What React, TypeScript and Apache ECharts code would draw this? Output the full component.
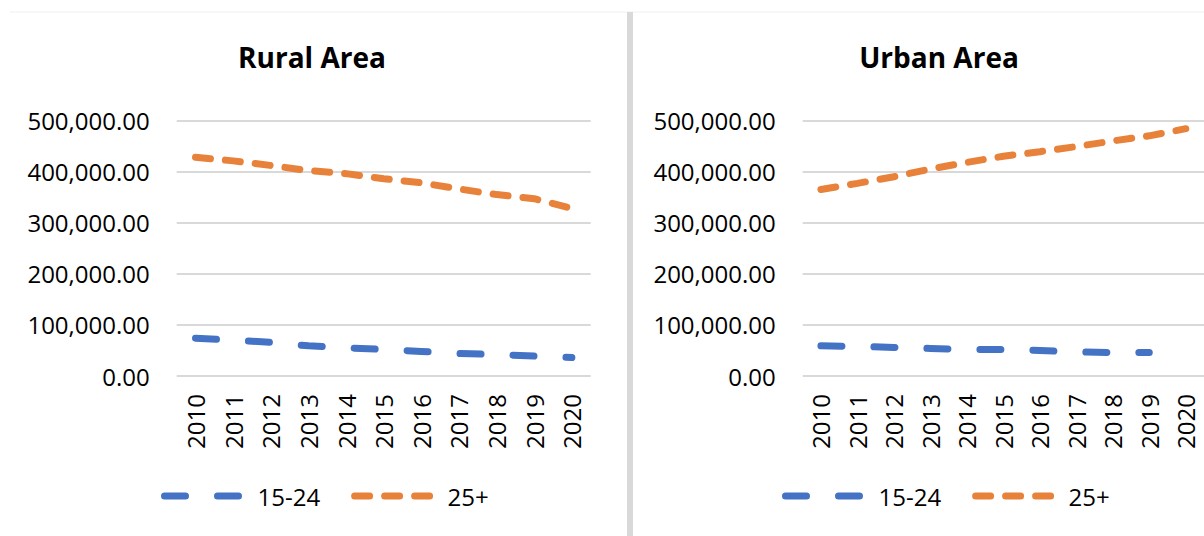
import React, { useEffect, useRef } from "react";
import * as echarts from "echarts";

const years = ["2010", "2011", "2012", "2013", "2014", "2015", "2016", "2017", "2018", "2019", "2020"];
const rural1524 = [74000, 70000, 66000, 59000, 55000, 52000, 48000, 44000, 42000, 39000, 36000];
const rural25 = [428000, 421000, 412000, 402000, 396000, 386000, 378000, 366000, 355000, 347000, 328000];
const urban1524 = [59000, 58000, 56000, 54000, 52000, 52000, 50000, 47000, 46000, 46000, null];
const urban25 = [365000, 377000, 390000, 405000, 418000, 430000, 439000, 449000, 460000, 470000, 484000];
const titles = ["Rural Area", "Urban Area"];
const seriesNames = ["15-24", "25+"];

const BLUE = "#4472C4";
const ORANGE = "#E8823A";
const FONT = "Open Sans";

export default function App() {
  const ref = useRef<HTMLDivElement>(null);
  useEffect(() => {
    if (!ref.current) return;
    const chart = echarts.init(ref.current, null, { renderer: "svg" });
    const fmt = (v: number) =>
      v.toLocaleString("en-US", { minimumFractionDigits: 2, maximumFractionDigits: 2 });
    const grids = [
      { left: 176.7, top: 120.5, width: 414, height: 255.5 },
      { left: 802.7, top: 120.5, width: 411, height: 255.5 },
    ];
    const xAxes = grids.map((_, i) => ({
      type: "category",
      gridIndex: i,
      data: years,
      boundaryGap: true,
      axisLine: { show: false },
      axisTick: { show: false },
      axisLabel: { rotate: 90, margin: 18, fontSize: 24, fontFamily: FONT, color: "#000" },
    }));
    const yAxes = grids.map((_, i) => ({
      type: "value",
      gridIndex: i,
      min: 0,
      max: 500000,
      interval: 100000,
      axisLine: { show: false },
      axisTick: { show: false },
      splitLine: { lineStyle: { color: "#d9d9d9", width: 2 } },
      axisLabel: { margin: 27, fontSize: 24, fontFamily: FONT, color: "#000", formatter: fmt },
    }));
    const blueLine = { color: BLUE, width: 7, type: [21, 32], cap: "round" };
    const orangeLine = { color: ORANGE, width: 7, type: [15, 15], cap: "round" };
    const mk = (name: string, data: (number | null)[], idx: number, ls: any, color: string) => ({
      type: "line",
      name,
      data,
      xAxisIndex: idx,
      yAxisIndex: idx,
      symbol: "none",
      showSymbol: false,
      color,
      lineStyle: ls,
      connectNulls: false,
    });
    const legendCommon = {
      orient: "horizontal",
      padding: 0,
      top: 484,
      itemWidth: 76,
      itemHeight: 8,
      itemGap: 31,
      data: seriesNames,
      lineStyle: { width: 7 },
      itemStyle: { opacity: 0, color: "transparent", borderWidth: 0 },
      textStyle: { fontSize: 24, fontFamily: FONT, color: "#000", padding: [0, 0, 0, 12] },
    };
    chart.setOption({
      animation: false,
      backgroundColor: "#ffffff",
      title: titles.map((t, i) => ({
        text: t,
        left: i === 0 ? 312 : 939,
        top: 43,
        padding: 0,
        textAlign: "center",
        textStyle: { fontSize: 28, fontWeight: "bold", fontFamily: FONT, color: "#000" },
      })),
      legend: [
        { ...legendCommon, left: 161 },
        { ...legendCommon, left: 782 },
      ],
      grid: grids,
      xAxis: xAxes,
      yAxis: yAxes,
      series: [
        mk(seriesNames[0], rural1524, 0, blueLine, BLUE),
        mk(seriesNames[1], rural25, 0, orangeLine, ORANGE),
        mk(seriesNames[0], urban1524, 1, blueLine, BLUE),
        mk(seriesNames[1], urban25, 1, orangeLine, ORANGE),
      ],
      graphic: [
        {
          type: "line",
          shape: { x1: 10, y1: 12, x2: 1204, y2: 12 },
          style: { stroke: "#f0f0f0", lineWidth: 1 },
          silent: true,
        },
        {
          type: "rect",
          shape: { x: 627, y: 12, width: 6, height: 524 },
          style: { fill: "#d9d9d9" },
          silent: true,
        },
      ],
    });
    return () => chart.dispose();
  }, []);
  return (
    <div
      ref={ref}
      style={{ position: "absolute", left: 0, top: 0, width: 1204, height: 536 }}
    />
  );
}
